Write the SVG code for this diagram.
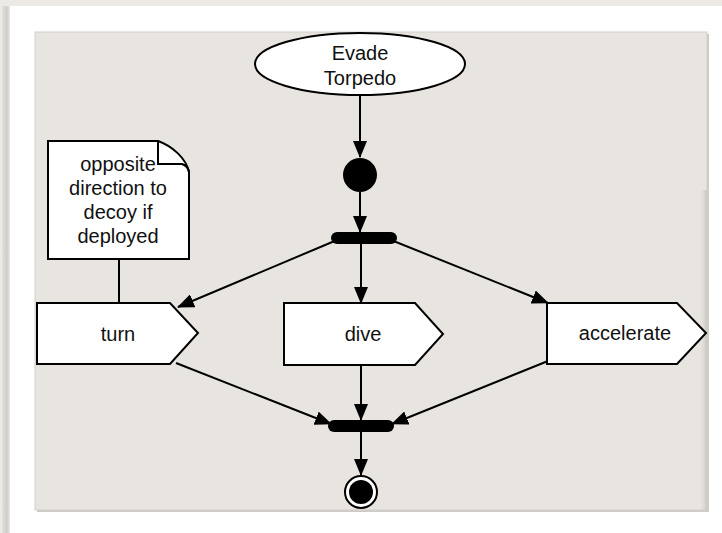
<svg xmlns="http://www.w3.org/2000/svg" width="722" height="533" viewBox="0 0 722 533">
  <defs>
    <style>
      .ln { stroke: #000; stroke-width: 2; fill: none; }
      .shape { fill: #fff; stroke: #000; stroke-width: 2; }
      .lbl { font-family: "Liberation Sans", Arial, sans-serif; font-size: 20px; fill: #111; text-anchor: middle; }
    </style>
    <marker id="arrow" markerWidth="17" markerHeight="14" refX="16" refY="7" orient="auto" markerUnits="userSpaceOnUse">
      <path d="M0,0 L17,7 L0,14 Z" fill="#000"/>
    </marker>
    <linearGradient id="leftShade" x1="0" y1="0" x2="1" y2="0">
      <stop offset="0" stop-color="#e4e2de"/>
      <stop offset="0.6" stop-color="#cfcdc9"/>
      <stop offset="1" stop-color="#e9e8e6"/>
    </linearGradient>
    <linearGradient id="rightShade" x1="0" y1="0" x2="1" y2="0">
      <stop offset="0" stop-color="#e6e3de" stop-opacity="0"/>
      <stop offset="1" stop-color="#c9c6c1"/>
    </linearGradient>
  </defs>

  <!-- page backdrop -->
  <rect x="0" y="0" width="722" height="533" fill="#edeae5"/>
  <!-- white sheet with left shadow -->
  <rect x="2" y="6" width="8" height="527" fill="url(#leftShade)"/>
  <rect x="10" y="6" width="712" height="527" fill="#ffffff"/>
  <!-- drawing panel -->
  <rect x="37" y="34" width="672" height="478" fill="#cfccc7"/>
  <rect x="35" y="32" width="672" height="478" fill="#e8e5e0" stroke="#d2cfca" stroke-width="1"/>
  <rect x="699" y="190" width="8" height="320" fill="url(#rightShade)"/>

  <!-- connectors -->
  <g id="connectors">
    <line class="ln" x1="360" y1="96" x2="360" y2="157" marker-end="url(#arrow)"/>
    <line class="ln" x1="360" y1="192" x2="360" y2="232" marker-end="url(#arrow)"/>
    <line class="ln" x1="337" y1="240" x2="178" y2="307" marker-end="url(#arrow)"/>
    <line class="ln" x1="361" y1="244" x2="361" y2="303" marker-end="url(#arrow)"/>
    <line class="ln" x1="391" y1="240" x2="548" y2="303" marker-end="url(#arrow)"/>
    <line class="ln" x1="119" y1="259" x2="119" y2="303"/>
    <line class="ln" x1="176" y1="363" x2="331" y2="424" marker-end="url(#arrow)"/>
    <line class="ln" x1="361" y1="365" x2="361" y2="420" marker-end="url(#arrow)"/>
    <line class="ln" x1="548" y1="361" x2="392" y2="424" marker-end="url(#arrow)"/>
    <line class="ln" x1="361" y1="432" x2="361" y2="475" marker-end="url(#arrow)"/>
  </g>

  <g id="start-activity">
    <ellipse class="shape" cx="360" cy="64" rx="105" ry="31"/>
    <text class="lbl" x="360" y="60">Evade</text>
    <text class="lbl" x="360" y="85">Torpedo</text>
  </g>

  <g id="initial-node">
    <circle cx="360" cy="175" r="17" fill="#000"/>
  </g>

  <g id="fork-bar">
    <rect x="331" y="232" width="66" height="12" rx="6" fill="#000"/>
  </g>

  <g id="note">
    <path class="shape" d="M48,141 L158,141 C172,146 186,158 189,172 L189,259 L48,259 Z"/>
    <path class="ln" d="M158,141 L158,164 L182,164 Q188,166 189,172"/>
    <text class="lbl" x="118" y="171">opposite</text>
    <text class="lbl" x="118" y="195">direction to</text>
    <text class="lbl" x="118" y="219">decoy if</text>
    <text class="lbl" x="118" y="243">deployed</text>
  </g>

  <g id="turn">
    <path class="shape" d="M37,303 L170,303 L198,333 L170,364 L37,364 Z"/>
    <text class="lbl" x="118" y="341">turn</text>
  </g>

  <g id="dive">
    <path class="shape" d="M284,303 L415,303 L443,334 L415,365 L284,365 Z"/>
    <text class="lbl" x="363" y="341">dive</text>
  </g>

  <g id="accelerate">
    <path class="shape" d="M547,303 L677,303 L706,333 L677,364 L547,364 Z"/>
    <text class="lbl" x="625" y="340">accelerate</text>
  </g>

  <g id="join-bar">
    <rect x="328" y="420" width="66" height="12" rx="6" fill="#000"/>
  </g>

  <g id="final-node">
    <circle cx="361" cy="492" r="16" fill="#fff" stroke="#000" stroke-width="2"/>
    <circle cx="361" cy="492" r="12" fill="#000"/>
  </g>
</svg>
